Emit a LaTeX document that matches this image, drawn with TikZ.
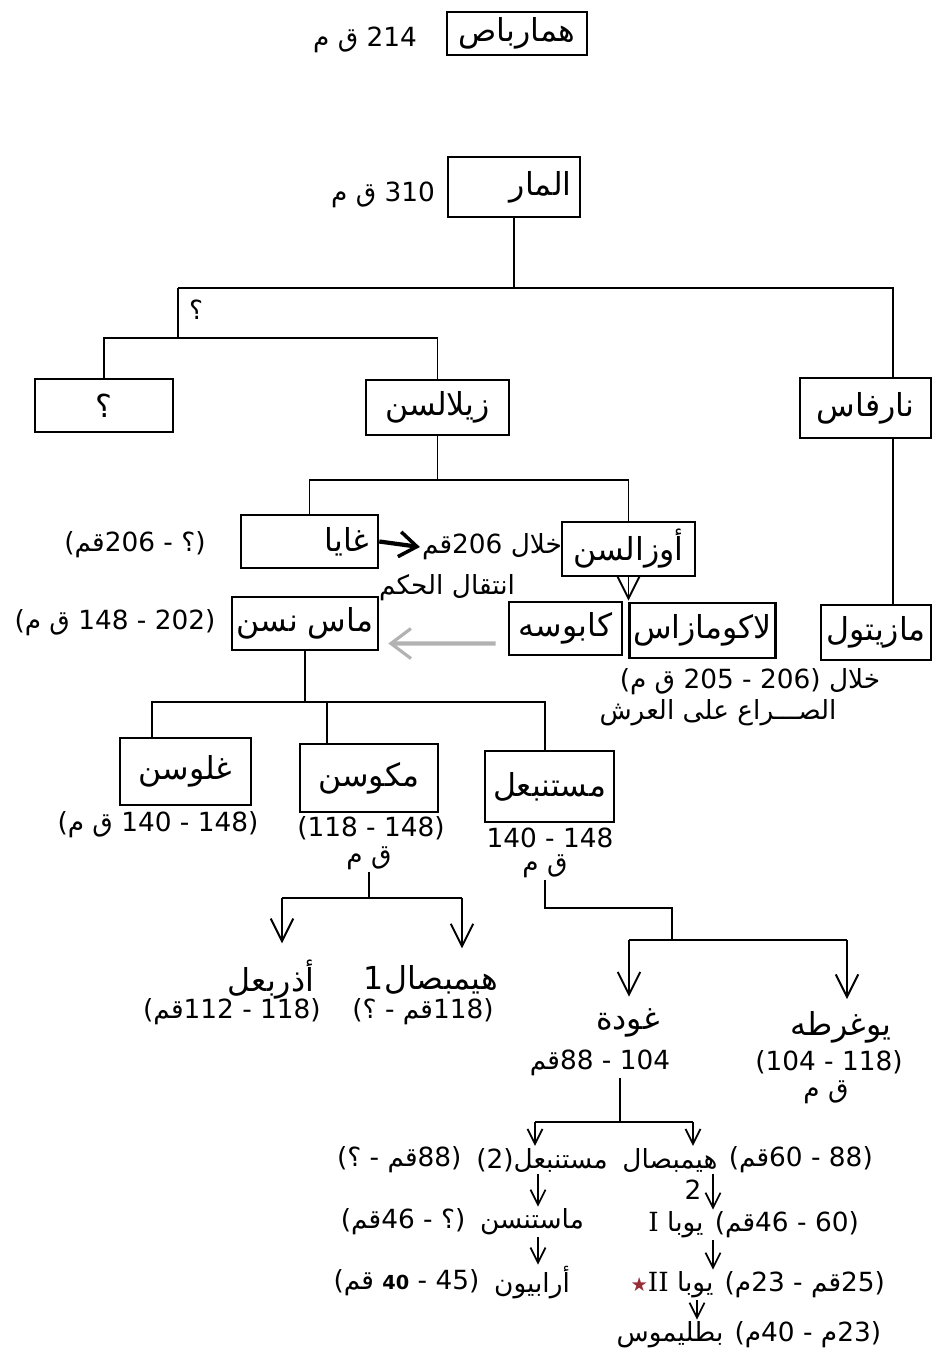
\documentclass[tikz,border=0pt]{standalone}
\usepackage{fontspec}
\usepackage{xcolor}
\usepackage{tikz}
\usetikzlibrary{arrows.meta,positioning,calc}

\setmainfont{DejaVu Sans}
\newfontfamily\arabicfont[Script=Arabic]{DejaVu Sans}
\newfontfamily\numeralfont{DejaVu Serif}
\TeXXeTstate=1
\newcommand{\artext}[1]{{\arabicfont\beginR #1\endR}}
\newcommand{\namefont}{\fontsize{18}{21}\selectfont}
\newcommand{\datefont}{\fontsize{15}{18}\selectfont}
\definecolor{starred}{RGB}{150,45,55}

\begin{document}
\begin{tikzpicture}[
    x=0.02cm, y=-0.02cm,
    kingbox/.style={rectangle, draw, line width=1.5pt, font=\namefont, inner sep=2pt},
    kingname/.style={font=\namefont, inner sep=1pt},
    smallname/.style={font=\datefont, inner sep=1pt},
    datelbl/.style={font=\datefont, inner sep=1pt},
    link/.style={line width=1pt},
    arrowdown/.style={link, -{Straight Barb[length=0.45cm, width=0.45cm, line width=1.1pt]}},
    arrowsmall/.style={link, -{Straight Barb[length=0.3cm, width=0.3cm, line width=1pt]}},
    bigarrow/.style={line width=2.4pt, -{Straight Barb[length=0.35cm, width=0.5cm, line width=2pt]}},
    grayarrow/.style={line width=2.4pt, gray!60, -{Straight Barb[length=0.4cm, width=0.6cm, line width=1.8pt]}}
]
\useasboundingbox (0,0) rectangle (933,1360);

% Oldest ancestors
\node[kingbox, minimum width=2.8cm, minimum height=0.86cm] (hamar) at (517,33.5) {\artext{همارباص}};
\node[datelbl] (hamardate) at (365,40) {\artext{ق م} 214};

\node[kingbox, minimum width=2.64cm, minimum height=1.2cm, text width=2.3cm, align=right] (almar) at (514,187) {\artext{المار}};
\node[datelbl] (almardate) at (383,195) {\artext{ق م} 310};

% Third generation
\node[kingbox, minimum width=2.76cm, minimum height=1.06cm] (unknown) at (104,405.5) {\artext{؟}};
\node[kingbox, minimum width=2.86cm, minimum height=1.1cm] (zilalsan) at (437.5,407.5) {\artext{زيلالسن}};
\node[kingbox, minimum width=2.62cm, minimum height=1.2cm] (narfas) at (865.5,408) {\artext{نارفاس}};
\node[datelbl] (qmark) at (196,310) {\artext{؟}};

\coordinate (busA) at (178,288);
\coordinate (busB) at (178,338);
\coordinate (rx) at (893,0);
\draw[link] (almar.south) |- (busA);
\draw[link] (almar.south |- busA) -| (narfas.north -| rx);
\draw[link] (busA) -- (busB);
\draw[link] (unknown.north) |- (busB) -| (zilalsan.north);

% Gaia and Ozalces
\node[kingbox, minimum width=2.74cm, minimum height=1.06cm, text width=2.4cm, align=right] (gaia) at (309.5,541.5) {\artext{غايا}};
\node[datelbl] (gaiadate) at (135,545) {(\artext{قم}206 - \artext{؟})};
\node[kingbox, minimum width=2.66cm, minimum height=1.08cm] (ozalsan) at (628.5,549) {\artext{أوزالسن}};
\node[datelbl] (khilal) at (492,547) {\artext{قم}206 \artext{خلال}};

\coordinate (busC) at (0,480);
\draw[link] (zilalsan.south) -- (zilalsan.south |- busC);
\draw[link] (gaia.north) |- (zilalsan.south |- busC) -| (ozalsan.north);
\draw[bigarrow] (gaia.east) -- (khilal.west);

% Masinissa, Capussa, Lacumazes, Mazaetullus
\node[kingbox, minimum width=2.92cm, minimum height=1.06cm] (masinissa) at (305,623.5) {\artext{ماس نسن}};
\node[datelbl] (masdate) at (115,623) {(\artext{ق م} 148 - 202)};
\node[kingbox, minimum width=2.26cm, minimum height=1.06cm] (capussa) at (565.5,628.5) {\artext{كابوسه}};
\node[kingbox, minimum width=2.38cm, minimum height=1.1cm] (lacumazes) at (702.5,630.5) {\artext{لاكومازاس}};
\node[kingbox, minimum width=2.2cm, minimum height=1.1cm, inner sep=0pt] (mazaetullus) at (876,632.5) {\artext{مازيتول}};
\node[datelbl] (intiqal) at (447,588) {\artext{انتقال الحكم}};
\node[datelbl] (khilalb) at (750,682) {(\artext{ق م} 205 - 206) \artext{خلال}};
\node[datelbl] (sira) at (718,713) {\artext{الصـــراع على العرش}};

\draw[link] (narfas.south -| rx) -- (mazaetullus.north -| rx);
\draw[arrowdown] (ozalsan.south) -- (ozalsan.south |- capussa.north);
\draw[grayarrow, shorten <=0.24cm, shorten >=0.18cm] ([yshift=-0.3cm]capussa.west) -- ([yshift=-0.4cm]masinissa.east);

% Sons of Masinissa
\node[kingbox, minimum width=2.62cm, minimum height=1.34cm] (gulussa) at (185.5,771.5) {\artext{غلوسن}};
\node[kingbox, minimum width=2.76cm, minimum height=1.36cm] (micipsa) at (369,778) {\artext{مكوسن}};
\node[kingbox, minimum width=2.58cm, minimum height=1.42cm] (mastanabal) at (549.5,786.5) {\artext{مستنبعل}};
\node[datelbl] (guldate) at (158,825) {(\artext{ق م} 140 - 148)};
\node[datelbl] (micdate) at (371,828) {(118 - 148)};
\node[datelbl] (micqm) at (369,858) {\artext{ق م}};
\node[datelbl] (mastdate) at (550,838) {140 - 148};
\node[datelbl] (mastqm) at (545,866) {\artext{ق م}};

\coordinate (busD) at (0,702);
\coordinate (gx) at (152,0);
\coordinate (mx) at (327,0);
\coordinate (sx) at (545,0);
\draw[link] (masinissa.south) -- (masinissa.south |- busD);
\draw[link] (gulussa.north -| gx) |- (busD -| sx) -- (mastanabal.north -| sx);
\draw[link] (busD -| mx) -- (micipsa.north -| mx);

% Sons of Micipsa
\node[kingname] (adherbal) at (271,980) {\artext{أذربعل}};
\node[datelbl] (adhdate) at (232,1012) {(\artext{قم}112 - 118)};
\node[kingname] (hiempsala) at (431,980) {1\artext{هيمبصال}};
\node[datelbl] (hiemdate) at (423,1012) {(\artext{؟} - \artext{قم}118)};

\coordinate (busE) at (0,898);
\coordinate (ax) at (282,0);
\coordinate (hx) at (462,0);
\draw[link] (micqm.south) -- (micqm.south |- busE);
\draw[link] (busE -| ax) -- (busE -| hx);
\draw[arrowdown, shorten >=0.3cm] (busE -| ax) -- (adherbal.north -| ax);
\draw[arrowdown, shorten >=0.3cm] (busE -| hx) -- (hiempsala.north -| hx);

% Sons of Mastanabal
\node[kingname] (gauda) at (628,1023) {\artext{غودة}};
\node[datelbl] (gaudadate) at (600,1063) {\artext{قم}88 - 104};
\node[kingname] (jugurtha) at (841,1027) {\artext{يوغرطه}};
\node[datelbl] (jugdate) at (829,1062) {(104 - 118)};
\node[datelbl] (jugqm) at (826,1092) {\artext{ق م}};

\coordinate (stepF) at (672,908);
\coordinate (busG) at (0,940);
\coordinate (dx) at (629,0);
\coordinate (jx) at (847,0);
\draw[link] (mastqm.south) |- (stepF) -- (stepF |- busG);
\draw[link] (busG -| dx) -- (busG -| jx);
\draw[arrowdown, shorten >=0.2cm] (busG -| dx) -- (gauda.north -| dx);
\draw[arrowdown, shorten >=0.2cm] (busG -| jx) -- (jugurtha.north -| jx);

% Descendants of Gauda
\node[smallname] (mastanabalb) at (542,1160) {(2)\artext{مستنبعل}};
\node[datelbl, left=6pt of mastanabalb] (mastbdate) {(\artext{؟} - \artext{قم}88)};
\node[smallname] (mastanesosus) at (532,1222) {\artext{ماستنسن}};
\node[datelbl, left=6pt of mastanesosus] (mastsdate) {(\artext{قم}46 - \artext{؟})};
\node[smallname] (arabion) at (532,1283) {\artext{أرابيون}};
\node[datelbl, left=6pt of arabion] (arabdate) {(\artext{قم} {\fontsize{11}{13}\selectfont\bfseries 40} - 45)};

\node[smallname] (hiempsalb) at (670,1160) {\artext{هيمبصال}};
\node[datelbl, right=4pt of hiempsalb] (hiembdate) {(\artext{قم}60 - 88)};
\node[datelbl] (hiempsalnum) at (693,1190) {2};
\node[smallname] (jubaa) at (676,1225) {{\numeralfont I} \artext{يوبا}};
\node[datelbl, right=4pt of jubaa] (jubaadate) {(\artext{قم}46 - 60)};
\node[smallname] (jubab) at (672,1285) {\textcolor{starred}{\fontsize{11}{13}\selectfont ★}{\numeralfont II} \artext{يوبا}};
\node[datelbl, right=4pt of jubab] (jubabdate) {(\artext{م}23 - \artext{قم}25)};
\node[smallname] (ptolemy) at (670,1335) {\artext{بطليموس}};
\node[datelbl, right=4pt of ptolemy] (ptoldate) {(\artext{م}40 - \artext{م}23)};

\coordinate (busH) at (0,1122);
\coordinate (cx) at (620,0);
\coordinate (lx) at (535,0);
\coordinate (rx2) at (693,0);
\coordinate (lx2) at (538,0);
\coordinate (rx3) at (713,0);
\coordinate (px) at (697,0);
\draw[link] (gaudadate.south -| cx) -- (busH -| cx);
\draw[link] (busH -| lx) -- (busH -| rx2);
\draw[arrowsmall] (busH -| lx) -- (mastanabalb.north -| lx);
\draw[arrowsmall] (busH -| rx2) -- (hiempsalb.north -| rx2);
\draw[arrowsmall] (mastanabalb.south -| lx2) -- (mastanesosus.north -| lx2);
\draw[arrowsmall] (mastanesosus.south -| lx2) -- (arabion.north -| lx2);
\draw[arrowsmall] (hiempsalb.south -| rx3) -- (jubaa.north -| rx3);
\draw[arrowsmall] (jubaa.south -| rx3) -- (jubab.north -| rx3);
\draw[arrowsmall] (jubab.south -| px) -- (ptolemy.north -| px);

\end{tikzpicture}
\end{document}
